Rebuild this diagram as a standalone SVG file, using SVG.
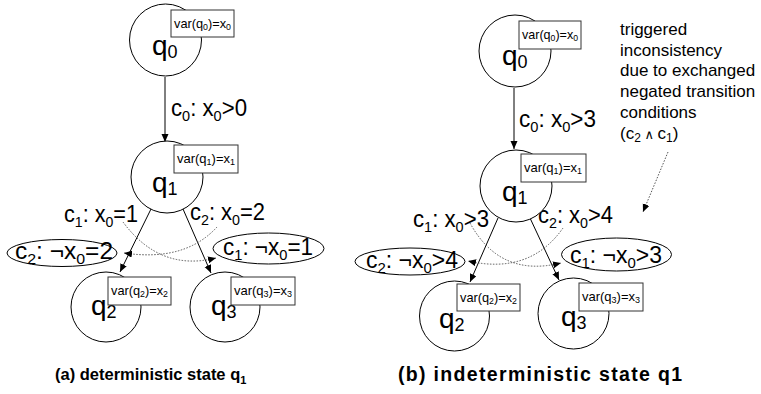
<svg xmlns="http://www.w3.org/2000/svg" width="761" height="394" viewBox="0 0 761 394">
<style>
text{font-family:"Liberation Sans","DejaVu Sans",Arial,sans-serif;fill:#000}
.st{fill:#fff;stroke:#000;stroke-width:1}
.box{fill:#fff;stroke:#333;stroke-width:1}
.ell{fill:none;stroke:#000;stroke-width:1}
.bt{font-size:13px}
.ql{font-size:28px}
.el{font-size:23px}
.an{font-size:17px}
.ti{font-weight:bold}
.ar{fill:none;stroke:#000;stroke-width:1;marker-end:url(#ah)}
.dt{fill:none;stroke:#555;stroke-width:1;stroke-dasharray:1.5 1.5;marker-end:url(#ah)}
</style>
<defs>
<marker id="ah" markerUnits="userSpaceOnUse" markerWidth="9" markerHeight="8" refX="8" refY="3.5" orient="auto">
<path d="M0,0 L8,3.5 L0,7 z" fill="#000"/>
</marker>
</defs>
<rect width="761" height="394" fill="#fff"/>

<g id="connectors">
<path class="ar" d="M165,77 L165,142"/>
<path class="ar" d="M151,209 L120,272"/>
<path class="ar" d="M183,209 L211,273"/>
<path class="dt" d="M123,222 Q160,272 216,258"/>
<path class="dt" d="M217,227 Q185,262 124,253"/>
<path class="ar" d="M514,88 L514,149"/>
<path class="ar" d="M498,218 L470,282"/>
<path class="ar" d="M530,218 L559,280"/>
<path class="dt" d="M470,223 Q500,278 561,263"/>
<path class="dt" d="M563,228 Q530,275 468,261"/>
<path class="dt" d="M668,152 L643,212"/>
</g>

<g id="labels">
<text class="el" x="171" y="116" textLength="76" lengthAdjust="spacingAndGlyphs">c<tspan font-size="15" dy="5">0</tspan><tspan dy="-5">: x</tspan><tspan font-size="15" dy="5">0</tspan><tspan dy="-5">&gt;0</tspan></text>
<text class="el" x="64" y="222" textLength="74" lengthAdjust="spacingAndGlyphs">c<tspan font-size="15" dy="5">1</tspan><tspan dy="-5">: x</tspan><tspan font-size="15" dy="5">0</tspan><tspan dy="-5">=1</tspan></text>
<text class="el" x="190" y="220" textLength="75" lengthAdjust="spacingAndGlyphs">c<tspan font-size="15" dy="5">2</tspan><tspan dy="-5">: x</tspan><tspan font-size="15" dy="5">0</tspan><tspan dy="-5">=2</tspan></text>
<text class="el" x="519" y="127" textLength="77" lengthAdjust="spacingAndGlyphs">c<tspan font-size="15" dy="5">0</tspan><tspan dy="-5">: x</tspan><tspan font-size="15" dy="5">0</tspan><tspan dy="-5">&gt;3</tspan></text>
<text class="el" x="413" y="227" textLength="76" lengthAdjust="spacingAndGlyphs">c<tspan font-size="15" dy="5">1</tspan><tspan dy="-5">: x</tspan><tspan font-size="15" dy="5">0</tspan><tspan dy="-5">&gt;3</tspan></text>
<text class="el" x="538" y="223" textLength="75" lengthAdjust="spacingAndGlyphs">c<tspan font-size="15" dy="5">2</tspan><tspan dy="-5">: x</tspan><tspan font-size="15" dy="5">0</tspan><tspan dy="-5">&gt;4</tspan></text>
</g>

<g id="neg-left-c2">
<ellipse class="ell" cx="62" cy="253" rx="55" ry="13.5"/>
<text class="el" x="15" y="259" textLength="98" lengthAdjust="spacingAndGlyphs">c<tspan font-size="15" dy="5">2</tspan><tspan dy="-5">: ¬x</tspan><tspan font-size="15" dy="5">0</tspan><tspan dy="-5">=2</tspan></text>
</g>
<g id="neg-left-c1">
<ellipse class="ell" cx="268.5" cy="248.5" rx="55.5" ry="15.5"/>
<text class="el" x="223" y="255" textLength="90" lengthAdjust="spacingAndGlyphs">c<tspan font-size="15" dy="5">1</tspan><tspan dy="-5">: ¬x</tspan><tspan font-size="15" dy="5">0</tspan><tspan dy="-5">=1</tspan></text>
</g>
<g id="neg-right-c2">
<ellipse class="ell" cx="410" cy="261.5" rx="55" ry="13.5"/>
<text class="el" x="366" y="268" textLength="92" lengthAdjust="spacingAndGlyphs">c<tspan font-size="15" dy="5">2</tspan><tspan dy="-5">: ¬x</tspan><tspan font-size="15" dy="5">0</tspan><tspan dy="-5">&gt;4</tspan></text>
</g>
<g id="neg-right-c1">
<ellipse class="ell" cx="616.5" cy="254.5" rx="55" ry="16.5"/>
<text class="el" x="570" y="263" textLength="92" lengthAdjust="spacingAndGlyphs">c<tspan font-size="15" dy="5">1</tspan><tspan dy="-5">: ¬x</tspan><tspan font-size="15" dy="5">0</tspan><tspan dy="-5">&gt;3</tspan></text>
</g>

<g id="a-q0">
<circle class="st" cx="165.5" cy="40" r="36"/>
<text class="ql" x="152" y="55">q<tspan font-size="18" dy="3">0</tspan></text>
<rect class="box" x="171" y="10" width="63" height="27"/>
<text class="bt" x="174" y="28" textLength="57" lengthAdjust="spacingAndGlyphs">var(q<tspan font-size="9" dy="2">0</tspan><tspan dy="-2">)=x</tspan><tspan font-size="9" dy="2">0</tspan></text>
</g>
<g id="a-q1">
<circle class="st" cx="167" cy="177" r="36"/>
<text class="ql" x="152" y="192">q<tspan font-size="18" dy="3">1</tspan></text>
<rect class="box" x="174" y="145" width="64" height="28"/>
<text class="bt" x="177" y="163" textLength="58" lengthAdjust="spacingAndGlyphs">var(q<tspan font-size="9" dy="2">1</tspan><tspan dy="-2">)=x</tspan><tspan font-size="9" dy="2">1</tspan></text>
</g>
<g id="a-q2">
<circle class="st" cx="106" cy="307" r="35"/>
<text class="ql" x="91" y="315">q<tspan font-size="18" dy="3">2</tspan></text>
<rect class="box" x="108" y="277" width="63" height="28"/>
<text class="bt" x="111" y="295" textLength="57" lengthAdjust="spacingAndGlyphs">var(q<tspan font-size="9" dy="2">2</tspan><tspan dy="-2">)=x</tspan><tspan font-size="9" dy="2">2</tspan></text>
</g>
<g id="a-q3">
<circle class="st" cx="225" cy="307" r="35"/>
<text class="ql" x="211" y="315">q<tspan font-size="18" dy="3">3</tspan></text>
<rect class="box" x="231" y="277" width="64" height="28"/>
<text class="bt" x="234" y="295" textLength="58" lengthAdjust="spacingAndGlyphs">var(q<tspan font-size="9" dy="2">3</tspan><tspan dy="-2">)=x</tspan><tspan font-size="9" dy="2">3</tspan></text>
</g>

<g id="b-q0">
<circle class="st" cx="515" cy="51" r="36"/>
<text class="ql" x="502" y="65">q<tspan font-size="18" dy="3">0</tspan></text>
<rect class="box" x="519" y="21" width="62" height="28"/>
<text class="bt" x="522" y="39" textLength="56" lengthAdjust="spacingAndGlyphs">var(q<tspan font-size="9" dy="2">0</tspan><tspan dy="-2">)=x</tspan><tspan font-size="9" dy="2">0</tspan></text>
</g>
<g id="b-q1">
<circle class="st" cx="516" cy="186" r="36"/>
<text class="ql" x="502" y="201">q<tspan font-size="18" dy="3">1</tspan></text>
<rect class="box" x="521" y="154" width="65" height="28"/>
<text class="bt" x="524" y="172" textLength="58" lengthAdjust="spacingAndGlyphs">var(q<tspan font-size="9" dy="2">1</tspan><tspan dy="-2">)=x</tspan><tspan font-size="9" dy="2">1</tspan></text>
</g>
<g id="b-q2">
<circle class="st" cx="454.5" cy="316" r="35"/>
<text class="ql" x="439" y="328">q<tspan font-size="18" dy="3">2</tspan></text>
<rect class="box" x="457" y="284" width="63" height="27"/>
<text class="bt" x="460" y="302" textLength="57" lengthAdjust="spacingAndGlyphs">var(q<tspan font-size="9" dy="2">2</tspan><tspan dy="-2">)=x</tspan><tspan font-size="9" dy="2">2</tspan></text>
</g>
<g id="b-q3">
<circle class="st" cx="573.5" cy="313.5" r="35.5"/>
<text class="ql" x="561" y="326">q<tspan font-size="18" dy="3">3</tspan></text>
<rect class="box" x="579" y="283" width="64" height="28"/>
<text class="bt" x="582" y="301" textLength="58" lengthAdjust="spacingAndGlyphs">var(q<tspan font-size="9" dy="2">3</tspan><tspan dy="-2">)=x</tspan><tspan font-size="9" dy="2">3</tspan></text>
</g>

<g id="annotation">
<text class="an" x="620" y="35">triggered</text>
<text class="an" x="620" y="55.7">inconsistency</text>
<text class="an" x="620" y="76.4">due to exchanged</text>
<text class="an" x="620" y="97.1">negated transition</text>
<text class="an" x="620" y="117.8">conditions</text>
<text class="an" x="620" y="138.5">(c<tspan font-size="12" dy="3">2</tspan><tspan dy="-3" font-size="13"> ∧ </tspan>c<tspan font-size="12" dy="3">1</tspan><tspan dy="-3">)</tspan></text>
</g>

<g id="titles">
<text class="ti" x="55" y="380" font-size="16.5">(a) deterministic state q<tspan font-size="11" dy="4">1</tspan></text>
<text class="ti" x="398" y="381" font-size="19.5" textLength="284" lengthAdjust="spacing">(b) indeterministic state q1</text>
</g>
</svg>
